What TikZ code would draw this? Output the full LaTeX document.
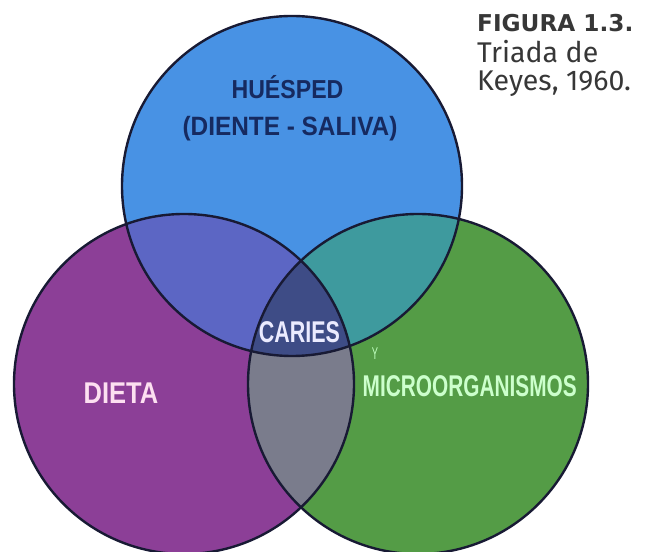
\documentclass[tikz,border=0pt]{standalone}
\usepackage{fontspec}
\usepackage{graphicx}
\newfontfamily\condfont{Liberation Sans}
\newfontfamily\capfont{Fira Sans}
\newfontfamily\capboldfont{DejaVu Sans}

\definecolor{hueblue}{RGB}{72,146,228}
\definecolor{dietpurple}{RGB}{140,63,151}
\definecolor{micgreen}{RGB}{84,156,70}
\definecolor{bluepurple}{RGB}{92,102,196}
\definecolor{bluegreen}{RGB}{62,154,158}
\definecolor{purplegreen}{RGB}{122,124,140}
\definecolor{centre}{RGB}{62,76,134}
\definecolor{ringline}{RGB}{24,26,52}
\definecolor{navytext}{RGB}{22,42,96}
\definecolor{captiontext}{RGB}{55,55,55}

% squeeze text horizontally
\newcommand{\narrow}[2]{\scalebox{#1}[1]{#2}}

\begin{document}
\begin{tikzpicture}[x=1pt, y=1pt,
        ring/.style={draw=ringline, line width=2.4pt},
        tag/.style={inner sep=0pt, anchor=base},
        captag/.style={inner sep=0pt, anchor=base west, text=captiontext}]
    \useasboundingbox (0,0) rectangle (647,551);
    \def\rad{170}
    \coordinate (hue) at (292, 365);
    \coordinate (die) at (184, 167);
    \coordinate (mic) at (418, 167);

    \fill[dietpurple] (die) circle (\rad);
    \fill[micgreen] (mic) circle (\rad);
    \fill[hueblue] (hue) circle (\rad);

    % overlaps
    \begin{scope}
        \clip (hue) circle (\rad);
        \fill[bluepurple] (die) circle (\rad);
        \fill[bluegreen] (mic) circle (\rad);
    \end{scope}
    \begin{scope}
        \clip (die) circle (\rad);
        \fill[purplegreen] (mic) circle (\rad);
        \clip (mic) circle (\rad);
        \fill[centre] (hue) circle (\rad);
    \end{scope}

    \draw[ring] (die) circle (\rad);
    \draw[ring] (mic) circle (\rad);
    \draw[ring] (hue) circle (\rad);

    \node[tag, text=navytext, font=\condfont\bfseries\fontsize{26}{26}\selectfont]
        (huesped) at (287.5, 452) {\narrow{0.89}{HUÉSPED}};
    \node[tag, text=navytext, font=\condfont\bfseries\fontsize{26.5}{26.5}\selectfont]
        (saliva) at (290, 415) {\narrow{0.92}{(DIENTE - SALIVA)}};
    \node[tag, text={white!92!blue}, font=\condfont\bfseries\fontsize{30}{30}\selectfont]
        (caries) at (299.5, 208) {\narrow{0.715}{CARIES}};
    \node[tag, text={white!88!magenta}, font=\condfont\bfseries\fontsize{30}{30}\selectfont]
        (dieta) at (121, 147.7) {\narrow{0.85}{DIETA}};
    \node[tag, text={white!80!green}, font=\condfont\bfseries\fontsize{30}{30}\selectfont]
        (micro) at (469.7, 154.3) {\narrow{0.694}{MICROORGANISMOS}};
    \node[tag, text={white!75!green}, font=\condfont\fontsize{17}{17}\selectfont]
        (mark) at (375, 191) {\narrow{0.55}{Y}};

    \node[captag, font=\capboldfont\bfseries\fontsize{23.2}{23.2}\selectfont]
        (figno) at (477, 519.3) {FIGURA 1.3.};
    \node[captag, font=\capfont\fontsize{28.5}{28.5}\selectfont]
        (triada) at (477, 488.5) {Triada de};
    \node[captag, font=\capfont\fontsize{28.5}{28.5}\selectfont]
        (keyes) at (477, 460) {Keyes, 1960.};
\end{tikzpicture}
\end{document}
